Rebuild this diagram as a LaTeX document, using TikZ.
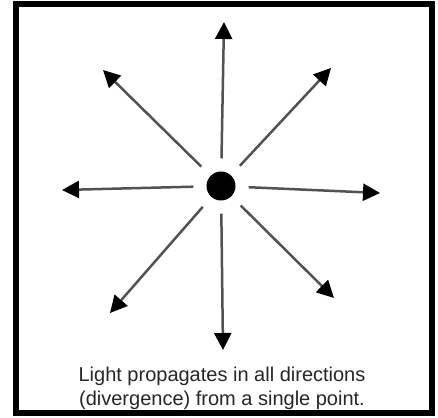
\documentclass[tikz,border=0pt]{standalone}
\usepackage{fontspec}
\setmainfont{Liberation Sans}
\usepackage{tikz}
\usetikzlibrary{arrows.meta,positioning}
\tikzset{
  light-source/.style={circle, fill=black, inner sep=0pt, minimum size=29pt},
  light-ray/.style={draw=black!68, line width=2.5pt, shorten <=13pt,
    -{Triangle[length=17pt, width=17pt, color=black, fill=black]}},
  light-caption/.style={align=center, inner sep=0pt, text=black!85,
    font=\fontsize{20}{24}\selectfont}
}

\begin{document}
\begin{tikzpicture}[x=1pt, y=1pt]
  \useasboundingbox (0,0) rectangle (438,417);
  % Frame
  \draw[line width=6pt] (16,4) rectangle (432,413);

  % Point source
  \node[light-source] (src) at (221,231) {};

  % Ray ends
  \coordinate (tipN)  at (224,395);
  \coordinate (tipNE) at (331,349);
  \coordinate (tipE)  at (380,224);
  \coordinate (tipSE) at (334,119);
  \coordinate (tipS)  at (223,67);
  \coordinate (tipSW) at (110,104);
  \coordinate (tipW)  at (62,227);
  \coordinate (tipNW) at (103,347);

  % Rays
  \draw[light-ray] (src) -- (tipN);
  \draw[light-ray] (src) -- (tipNE);
  \draw[light-ray] (src) -- (tipE);
  \draw[light-ray] (src) -- (tipSE);
  \draw[light-ray] (src) -- (tipS);
  \draw[light-ray] (src) -- (tipSW);
  \draw[light-ray] (src) -- (tipW);
  \draw[light-ray] (src) -- (tipNW);

  % Caption
  \node[light-caption] (caption) at (222,29) {Light propagates in all directions\\(divergence) from a single point.};
\end{tikzpicture}
\end{document}
